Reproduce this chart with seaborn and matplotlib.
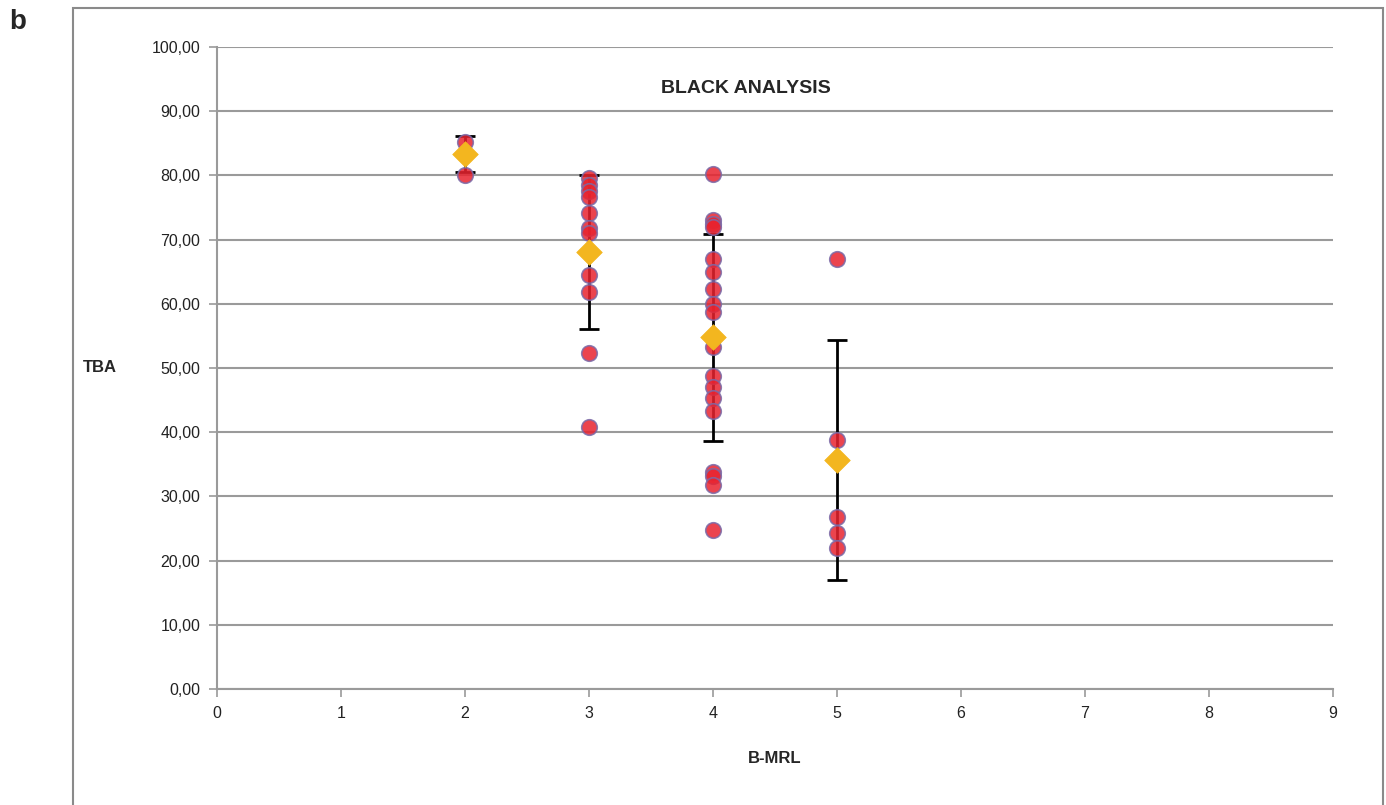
import numpy as np
import pandas as pd
import matplotlib
matplotlib.use('Agg')
import matplotlib.pyplot as plt
import seaborn as sns
from matplotlib.patches import Rectangle
from matplotlib.ticker import FuncFormatter

# individual TBA values per B-MRL score
mrl_2 = [85.2, 80.1]
mrl_3 = [79.6, 78.5, 77.6, 76.6, 74.1, 71.8, 71.0, 64.5, 61.8, 52.3, 40.8]
mrl_4 = [80.2, 73.0, 72.5, 72.0, 67.0, 65.0, 62.3, 60.0, 58.8, 53.3,
         48.8, 47.0, 45.3, 43.3, 33.8, 33.2, 31.8, 24.8]
mrl_5 = [67.0, 38.8, 26.8, 24.3, 22.0]

# group means and standard deviations
group_x = [2, 3, 4, 5]
group_mean = [83.3, 68.0, 54.8, 35.7]
group_sd = [2.8, 12.0, 16.1, 18.7]

sns.set_theme(style='white')
plt.rcParams['font.family'] = ['Liberation Sans', 'DejaVu Sans']

rows = []
for x, vals in zip(group_x, [mrl_2, mrl_3, mrl_4, mrl_5]):
    for v in vals:
        rows.append({'B-MRL': x, 'TBA': v})
df = pd.DataFrame(rows)
means = pd.DataFrame({'B-MRL': group_x, 'TBA': group_mean})

fig = plt.figure(figsize=(13.86, 8.05), dpi=100)
ax = fig.add_axes([0.1566, 0.1441, 0.8052, 0.7975])

# error bars sit under the circles, diamonds on top
ax.errorbar(group_x, group_mean, yerr=group_sd, fmt='none', ecolor='black',
            elinewidth=2, capsize=7, capthick=2, zorder=2)
sns.scatterplot(data=df, x='B-MRL', y='TBA', ax=ax, s=125, marker='o',
                color='#e8232f', edgecolor='#7a6aa8', linewidth=1.2,
                alpha=0.85, zorder=3, legend=False)
sns.scatterplot(data=means, x='B-MRL', y='TBA', ax=ax, s=170, marker='D',
                color='#f3b61f', edgecolor='#f3b61f', linewidth=0.5,
                zorder=5, legend=False)

ax.set_xlim(0, 9)
ax.set_ylim(0, 100)
ax.set_xticks(range(0, 10))
ax.set_yticks(np.arange(0, 101, 10))
ax.yaxis.set_major_formatter(FuncFormatter(lambda v, p: f'{v:.2f}'.replace('.', ',')))
ax.yaxis.grid(True, color='#9a9a9a', linewidth=1.5)
ax.xaxis.grid(False)
for side in ['top', 'right']:
    ax.spines[side].set_visible(False)
for side in ['left', 'bottom']:
    ax.spines[side].set_color('#9a9a9a')
    ax.spines[side].set_linewidth(1.5)
ax.tick_params(axis='both', which='major', direction='out', length=6,
               width=1.2, color='#9a9a9a', labelsize=11.5, labelcolor='#222222',
               bottom=True, left=True, pad=6)

ax.set_xlabel('B-MRL', fontsize=12, fontweight='bold', labelpad=22)
ax.set_ylabel('')
fig.text(0.072, 0.543, 'TBA', fontsize=12, fontweight='bold', ha='center', va='center')
ax.text(0.474, 0.935, 'BLACK ANALYSIS', transform=ax.transAxes, fontsize=14,
        fontweight='bold', ha='center', va='center')

fig.text(0.013, 0.973, 'b', fontsize=20, fontweight='bold', ha='center', va='center')
fig.patches.append(Rectangle((0.0527, -0.02), 0.945, 1.0101, transform=fig.transFigure,
                             fill=False, edgecolor='#8a8a8a', linewidth=1.5))

fig.savefig('out.png', dpi=100)
